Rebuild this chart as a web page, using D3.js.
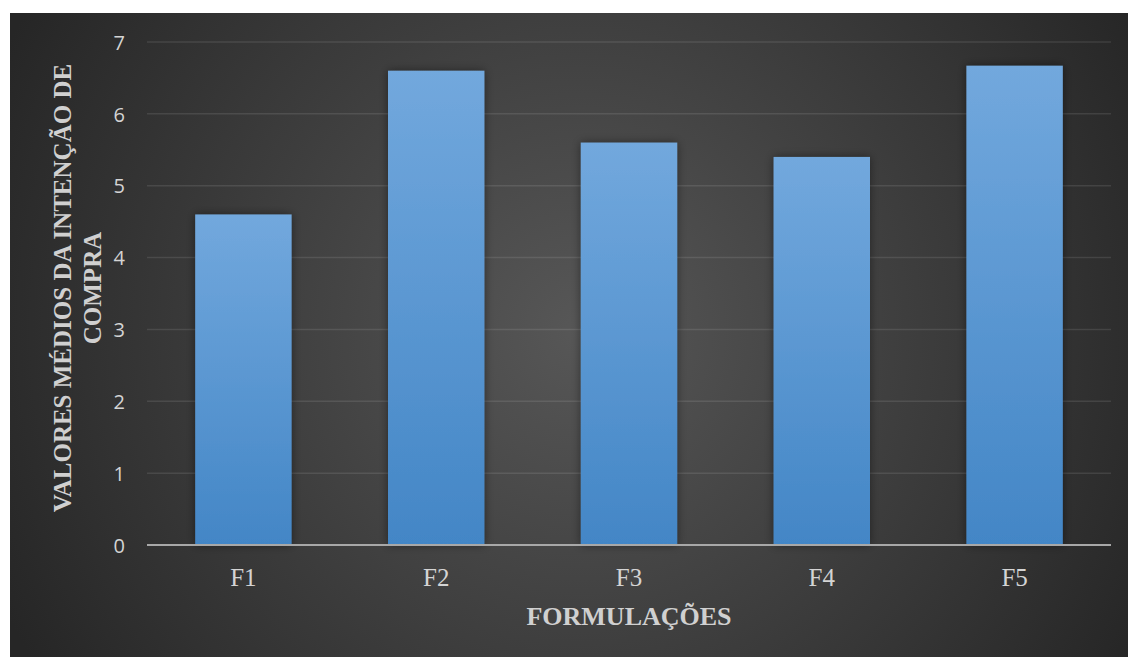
<!DOCTYPE html>
<html><head><meta charset="utf-8">
<script src="https://cdn.jsdelivr.net/npm/d3@7"></script>
<style>html,body{margin:0;padding:0;background:#fff;}svg{display:block;}</style>
</head><body>
<svg id="c" width="1128" height="657"></svg>
<script>
const categories = ["F1","F2","F3","F4","F5"];
const values = [4.6, 6.6, 5.6, 5.4, 6.67];
const yTicks = [0,1,2,3,4,5,6,7];
const yTitleLines = ["VALORES MÉDIOS DA INTENÇÃO DE","COMPRA"];
const xTitle = "FORMULAÇÕES";

const svg = d3.select("#c");
const defs = svg.append("defs");
const rg = defs.append("radialGradient").attr("id","bg").attr("gradientUnits","userSpaceOnUse")
  .attr("cx",580).attr("cy",330).attr("r",640);
rg.append("stop").attr("offset","0").attr("stop-color","#575757");
rg.append("stop").attr("offset","1").attr("stop-color","#262626");
const lg = defs.append("linearGradient").attr("id","bar").attr("x1",0).attr("y1",0).attr("x2",0).attr("y2",1);
lg.append("stop").attr("offset","0").attr("stop-color","#72a8dd");
lg.append("stop").attr("offset","1").attr("stop-color","#4386c6");
const f = defs.append("filter").attr("id","sh").attr("x","-20%").attr("y","-20%").attr("width","140%").attr("height","140%");
f.append("feDropShadow").attr("dx",0).attr("dy",0).attr("stdDeviation",5).attr("flood-color","#000").attr("flood-opacity",0.45);

svg.append("rect").attr("x",10).attr("y",13).attr("width",1118).attr("height",644).attr("fill","url(#bg)");

const x = d3.scaleBand().domain(categories).range([147,1111]).paddingInner(0.5).paddingOuter(0.25);
const y = d3.scaleLinear().domain([0,7]).range([545,42]);

// gridlines
svg.append("g").selectAll("line").data(yTicks.filter(d=>d>0)).join("line")
  .attr("x1",147).attr("x2",1111).attr("y1",d=>y(d)).attr("y2",d=>y(d))
  .attr("stroke","rgba(255,255,255,0.1)").attr("stroke-width",1.5);

// bars
svg.append("g").selectAll("rect").data(categories).join("rect")
  .attr("x",d=>x(d)).attr("width",x.bandwidth())
  .attr("y",(d,i)=>y(values[i])).attr("height",(d,i)=>y(0)-y(values[i]))
  .attr("fill","url(#bar)").attr("filter","url(#sh)");

// baseline
svg.append("line").attr("x1",147).attr("x2",1111).attr("y1",y(0)).attr("y2",y(0))
  .attr("stroke","#a8a8a8").attr("stroke-width",2);

// y axis labels
const yAxis = d3.axisLeft(y).tickValues(yTicks).tickSize(0).tickPadding(0).tickFormat(d3.format("d"));
const ga = svg.append("g").attr("transform","translate(125,0)").call(yAxis);
ga.select(".domain").remove();
ga.selectAll("text").attr("fill","#d4d4d4").attr("font-family","'Open Sans',Carlito,sans-serif").attr("font-size",20).attr("dy","0.36em");

// x axis labels
const xAxis = d3.axisBottom(x).tickSize(0).tickPadding(0);
const gx = svg.append("g").attr("transform","translate(0,586)").call(xAxis);
gx.select(".domain").remove();
gx.selectAll("text").attr("fill","#d4d4d4").attr("font-family","'Liberation Serif','Times New Roman',serif").attr("font-size",25).attr("dy","0");

// titles
svg.append("text").attr("x",629).attr("y",625).attr("text-anchor","middle")
  .attr("fill","#d0d0d0").attr("font-family","'Liberation Serif','Times New Roman',serif")
  .attr("font-weight","bold").attr("font-size",26).text(xTitle);

yTitleLines.forEach((t,i)=>{
  svg.append("text").attr("transform",`translate(${71+i*30},288) rotate(-90)`)
    .attr("text-anchor","middle").attr("fill","#d0d0d0")
    .attr("font-family","'Liberation Serif','Times New Roman',serif")
    .attr("font-weight","bold").attr("font-size",25).text(t);
});
</script>
</body></html>
